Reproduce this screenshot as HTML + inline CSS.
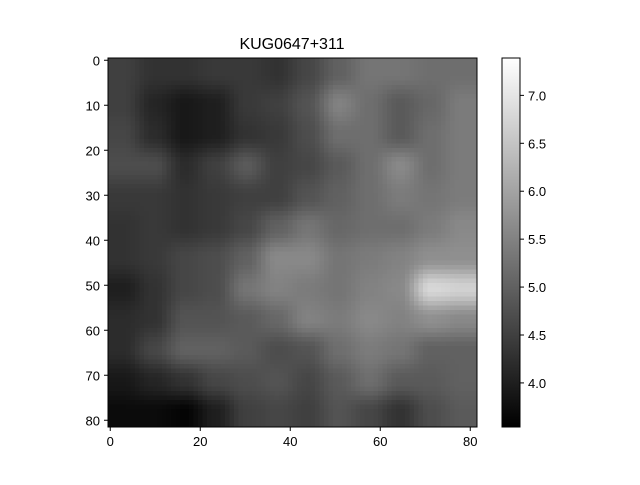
<!DOCTYPE html>
<html><head><meta charset="utf-8"><style>
body{margin:0;background:#fff;font-family:"Liberation Sans",sans-serif;}
</style></head><body>
<svg id="c" width="640" height="480" xmlns="http://www.w3.org/2000/svg">
<defs>
<linearGradient id="cg" x1="0" y1="1" x2="0" y2="0"><stop offset="0" stop-color="#000"/><stop offset="1" stop-color="#fff"/></linearGradient>
</defs>
<text x="292" y="49" text-anchor="middle" font-size="16">KUG0647+311</text>
<g id="cells" shape-rendering="crispEdges"></g>
<rect x="108" y="58" width="369" height="369" fill="none" stroke="#000" stroke-width="1"/>
<g id="axes"></g>
<rect x="502" y="58" width="18" height="369" fill="url(#cg)" stroke="#000" stroke-width="1"/>
</svg>
<script>
const grid = [
[4.5,4.3,4.3,4.4,4.4,4.3,4.6,5.0,5.3,5.3,5.2,5.2],
[4.5,4.1,3.9,4.0,4.4,4.5,4.8,5.5,5.2,4.9,5.1,5.4],
[4.6,4.2,3.9,4.0,4.3,4.4,4.7,5.2,5.2,4.9,5.2,5.4],
[4.7,4.7,4.2,4.5,4.9,4.5,4.6,4.9,5.2,5.6,5.2,5.4],
[4.4,4.4,4.3,4.4,4.5,4.5,4.8,5.0,5.2,5.4,5.3,5.4],
[4.3,4.4,4.3,4.4,4.6,5.0,5.3,5.1,5.2,5.2,5.4,5.6],
[4.3,4.4,4.6,4.7,5.0,5.6,5.6,5.3,5.4,5.5,5.7,5.7],
[4.0,4.3,4.6,4.7,5.3,5.5,5.4,5.3,5.5,5.6,6.8,6.7],
[4.2,4.3,4.8,4.8,4.9,5.1,5.5,5.4,5.6,5.5,5.7,5.6],
[4.2,4.6,5.0,5.0,4.9,4.7,4.8,5.2,5.4,5.3,5.0,5.0],
[3.9,4.1,4.3,4.6,4.7,4.8,4.6,4.9,5.2,4.9,4.9,5.0],
[3.7,3.7,3.6,4.0,4.5,4.6,4.5,4.8,4.6,4.3,4.7,4.9]
];
const xTicks = [0,20,40,60,80];
const yTicks = [0,10,20,30,40,50,60,70,80];
const cbTicks = [4.0,4.5,5.0,5.5,6.0,6.5,7.0];
const vmin = 3.54, vmax = 7.39, nPix = 82;
const ns = "http://www.w3.org/2000/svg";
const X0=108, Y0=58, W=369;
const n = grid.length, gs = nPix/n, pw = W/nPix;
const px = v => X0 + (v+0.5)*pw;
const py = v => Y0 + (v+0.5)*pw;
const cb = v => 427 - (v-vmin)/(vmax-vmin)*369;
const gray = v => { const g = Math.round(Math.max(0,Math.min(1,(v-vmin)/(vmax-vmin)))*255); return `rgb(${g},${g},${g})`; };
function sample(i,j){
  const fr = Math.max(0,Math.min(n-1,(i+0.5)/gs-0.5));
  const fc = Math.max(0,Math.min(n-1,(j+0.5)/gs-0.5));
  const r0=Math.floor(fr), c0=Math.floor(fc), r1=Math.min(n-1,r0+1), c1=Math.min(n-1,c0+1);
  let tr=fr-r0, tc=fc-c0;
  tr = tr*tr*(3-2*tr); tc = tc*tc*(3-2*tc);
  const a=grid[r0][c0]*(1-tc)+grid[r0][c1]*tc, b=grid[r1][c0]*(1-tc)+grid[r1][c1]*tc;
  return a*(1-tr)+b*tr;
}
const cells = document.getElementById('cells');
for (let i=0;i<nPix;i++) for (let j=0;j<nPix;j++){
  const e=document.createElementNS(ns,'rect');
  e.setAttribute('x',X0+j*pw); e.setAttribute('y',Y0+i*pw);
  e.setAttribute('width',pw+0.6); e.setAttribute('height',pw+0.6);
  e.setAttribute('fill',gray(sample(i,j)));
  
  
  cells.appendChild(e);
}
const ax = document.getElementById('axes');
function add(tag, attrs, text){ const e=document.createElementNS(ns,tag); for(const k in attrs) e.setAttribute(k,attrs[k]); if(text!==undefined) e.textContent=text; ax.appendChild(e); return e; }
xTicks.forEach(t=>{
  const l=add('line',{x1:px(t),x2:px(t),y1:427,y2:431,stroke:'#000'});
   
  const s=add('text',{x:px(t),y:446,'text-anchor':'middle','font-size':13},t);
   
});
yTicks.forEach(t=>{
  const l=add('line',{x1:104,x2:108,y1:py(t),y2:py(t),stroke:'#000'});
   
  const s=add('text',{x:100,y:py(t)+5,'text-anchor':'end','font-size':13},t);
   
});
cbTicks.forEach(t=>{
  const l=add('line',{x1:520,x2:524,y1:cb(t),y2:cb(t),stroke:'#000'});
   
  const s=add('text',{x:528,y:cb(t)+5,'font-size':13},t.toFixed(1));
   
});
</script>
</body></html>
